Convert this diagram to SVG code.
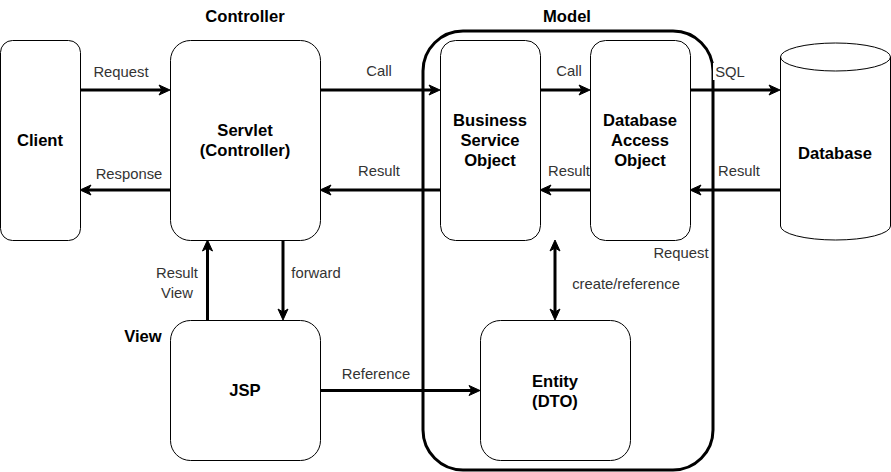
<svg xmlns="http://www.w3.org/2000/svg" width="891" height="472" viewBox="0 0 891 472">
<style>
.box{fill:#fff;stroke:#000;stroke-width:1}
.b{font-family:"Liberation Sans",Arial,sans-serif;font-weight:bold;font-size:16.6px;fill:#000;text-anchor:middle;dominant-baseline:central}
.l{font-family:"Liberation Sans",Arial,sans-serif;font-size:14.8px;fill:#333;text-anchor:middle;dominant-baseline:central}
.e{fill:none;stroke:#000;stroke-width:3}
</style>
<defs>
<marker id="ah" markerUnits="userSpaceOnUse" markerWidth="14" markerHeight="12" refX="3" refY="5" orient="auto-start-reverse" viewBox="-1 -1 14 12">
<path d="M0,0 L11,5 L0,10 L3,5 Z" fill="#000" stroke="#000" stroke-width="1"/>
</marker>
</defs>
<rect width="891" height="472" fill="#fff"/>
<g id="model">
<rect x="423" y="31" width="290" height="439" rx="40" fill="none" stroke="#000" stroke-width="3"/>
<text class="b" x="567" y="16">Model</text>
</g>
<g id="controller-label"><text class="b" x="245" y="16">Controller</text></g>
<g id="view-label"><text class="b" x="143" y="336">View</text></g>
<g id="client">
<rect class="box" x="0.5" y="40.5" width="80" height="200" rx="12"/>
<text class="b" x="40" y="140">Client</text>
</g>
<g id="servlet">
<rect class="box" x="170.5" y="40.5" width="150" height="200" rx="20"/>
<text class="b" x="245" y="130">Servlet</text>
<text class="b" x="245" y="150">(Controller)</text>
</g>
<g id="bso">
<rect class="box" x="440.5" y="40.5" width="100" height="200" rx="15"/>
<text class="b" x="490" y="120">Business</text>
<text class="b" x="490" y="140">Service</text>
<text class="b" x="490" y="160">Object</text>
</g>
<g id="dao">
<rect class="box" x="590.5" y="40.5" width="100" height="200" rx="15"/>
<text class="b" x="640" y="120">Database</text>
<text class="b" x="640" y="140">Access</text>
<text class="b" x="640" y="160">Object</text>
</g>
<g id="database">
<path class="box" d="M780.5,57 A55,14 0 0 1 890.5,57 L890.5,226 A55,14 0 0 1 780.5,226 Z"/>
<path fill="none" stroke="#000" stroke-width="1" d="M780.5,57 A55,14 0 0 0 890.5,57"/>
<text class="b" x="835" y="153">Database</text>
</g>
<g id="jsp">
<rect class="box" x="170.5" y="320.5" width="150" height="140" rx="20"/>
<text class="b" x="245" y="390">JSP</text>
</g>
<g id="entity">
<rect class="box" x="480.5" y="320.5" width="150" height="140" rx="20"/>
<text class="b" x="555" y="381">Entity</text>
<text class="b" x="555" y="401">(DTO)</text>
</g>
<g id="connectors">
<path class="e" d="M80,90 L162,90" marker-end="url(#ah)"/>
<text class="l" x="121" y="72">Request</text>
<path class="e" d="M170,190 L88,190" marker-end="url(#ah)"/>
<text class="l" x="129" y="174">Response</text>
<path class="e" d="M321,90 L432,90" marker-end="url(#ah)"/>
<text class="l" x="379" y="71">Call</text>
<path class="e" d="M440,190 L328,190" marker-end="url(#ah)"/>
<text class="l" x="379" y="171">Result</text>
<path class="e" d="M541,90 L582,90" marker-end="url(#ah)"/>
<text class="l" x="569" y="71">Call</text>
<path class="e" d="M590,190 L548,190" marker-end="url(#ah)"/>
<rect x="547" y="162" width="43" height="18" fill="#fff"/>
<text class="l" x="569" y="171">Result</text>
<path class="e" d="M691,90 L772,90" marker-end="url(#ah)"/>
<rect x="713" y="63" width="32" height="17" fill="#fff"/>
<text class="l" x="730" y="72">SQL</text>
<path class="e" d="M780,190 L698,190" marker-end="url(#ah)"/>
<text class="l" x="739" y="171">Result</text>
<text class="l" x="681" y="253">Request</text>
<path class="e" d="M207.5,320 L207.5,248" marker-end="url(#ah)"/>
<text class="l" x="177" y="273">Result</text>
<text class="l" x="177" y="293">View</text>
<path class="e" d="M283,241 L283,312" marker-end="url(#ah)"/>
<text class="l" x="316" y="273">forward</text>
<path class="e" d="M321,390.5 L472,390.5" marker-end="url(#ah)"/>
<text class="l" x="376" y="374">Reference</text>
<path class="e" d="M555,248 L555,312" marker-start="url(#ah)" marker-end="url(#ah)"/>
<text class="l" x="626" y="284">create/reference</text>
</g>
</svg>
